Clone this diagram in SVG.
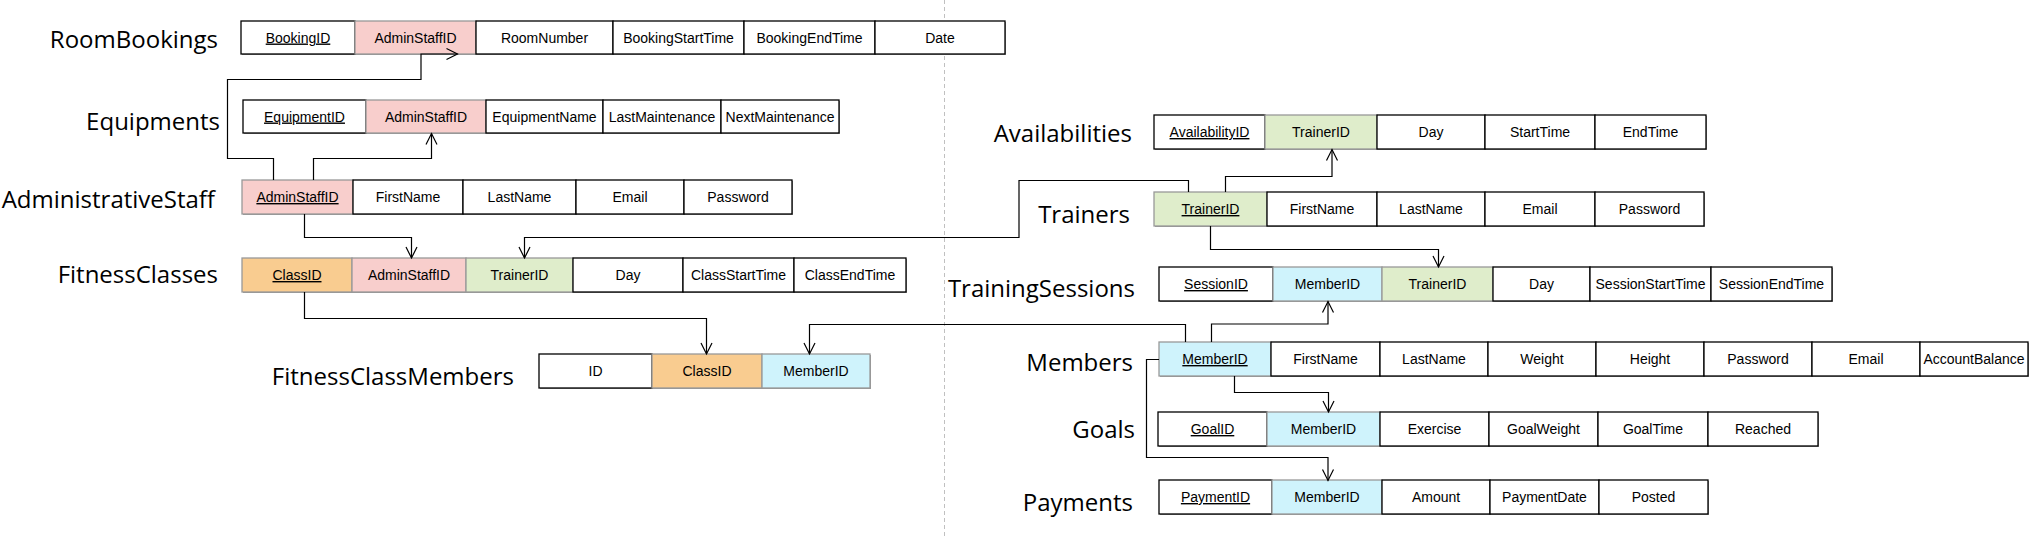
<svg xmlns="http://www.w3.org/2000/svg" width="2035" height="539" viewBox="0 0 2035 539">
<style>
.lbl{font-family:"Open Sans","Liberation Sans",sans-serif;font-size:24px;fill:#000;text-anchor:end}
.t{font-family:"Liberation Sans",Arial,sans-serif;font-size:14px;fill:#000;text-anchor:middle}
.pk{text-decoration:underline}
.w{fill:#fff;stroke:#000;stroke-width:1.3}
.pink{fill:#f8cecc;stroke:#999;stroke-width:1.3}
.green{fill:#dfedcb;stroke:#999;stroke-width:1.3}
.orange{fill:#f9cc90;stroke:#999;stroke-width:1.3}
.cyan{fill:#cff3fc;stroke:#999;stroke-width:1.3}
.sh{fill:#999;stroke:none}
.c{fill:none;stroke:#000;stroke-width:1.2;marker-end:url(#arr)}
</style>
<defs>
<marker id="arr" viewBox="0 0 14 14" markerWidth="14" markerHeight="14" refX="12" refY="7" orient="auto" markerUnits="userSpaceOnUse">
<path d="M1,1.5 L12,7 L1,12.5" fill="none" stroke="#000" stroke-width="1.2"/>
</marker>
</defs>
<rect width="2035" height="539" fill="#fff"/>
<line x1="944.5" y1="0" x2="944.5" y2="539" stroke="#c0c0c0" stroke-width="1" stroke-dasharray="4 3"/>

<g id="RoomBookings">
<text class="lbl" x="218" y="48">RoomBookings</text>
<rect class="sh" x="242" y="22" width="764" height="33"/>
<rect class="w" x="241" y="21" width="114" height="33"/><text class="t pk" x="298" y="42.5">BookingID</text>
<rect class="pink" x="355" y="21" width="121" height="33"/><text class="t" x="415.5" y="42.5">AdminStaffID</text>
<rect class="w" x="476" y="21" width="137" height="33"/><text class="t" x="544.5" y="42.5">RoomNumber</text>
<rect class="w" x="613" y="21" width="131" height="33"/><text class="t" x="678.5" y="42.5">BookingStartTime</text>
<rect class="w" x="744" y="21" width="131" height="33"/><text class="t" x="809.5" y="42.5">BookingEndTime</text>
<rect class="w" x="875" y="21" width="130" height="33"/><text class="t" x="940" y="42.5">Date</text>
</g>

<g id="Equipments">
<text class="lbl" x="220" y="130">Equipments</text>
<rect class="sh" x="244" y="101" width="596" height="33"/>
<rect class="w" x="243" y="100" width="123" height="33"/><text class="t pk" x="304.5" y="121.5">EquipmentID</text>
<rect class="pink" x="366" y="100" width="120" height="33"/><text class="t" x="426" y="121.5">AdminStaffID</text>
<rect class="w" x="486" y="100" width="117" height="33"/><text class="t" x="544.5" y="121.5">EquipmentName</text>
<rect class="w" x="603" y="100" width="118" height="33"/><text class="t" x="662" y="121.5">LastMaintenance</text>
<rect class="w" x="721" y="100" width="118" height="33"/><text class="t" x="780" y="121.5">NextMaintenance</text>
</g>

<g id="AdministrativeStaff">
<text class="lbl" x="215" y="208">AdministrativeStaff</text>
<rect class="sh" x="243" y="181" width="550" height="34"/>
<rect class="pink" x="242" y="180" width="111" height="34"/><text class="t pk" x="297.5" y="202">AdminStaffID</text>
<rect class="w" x="353" y="180" width="110" height="34"/><text class="t" x="408" y="202">FirstName</text>
<rect class="w" x="463" y="180" width="113" height="34"/><text class="t" x="519.5" y="202">LastName</text>
<rect class="w" x="576" y="180" width="108" height="34"/><text class="t" x="630" y="202">Email</text>
<rect class="w" x="684" y="180" width="108" height="34"/><text class="t" x="738" y="202">Password</text>
</g>

<g id="FitnessClasses">
<text class="lbl" x="218" y="283">FitnessClasses</text>
<rect class="sh" x="243" y="259" width="664" height="34"/>
<rect class="orange" x="242" y="258" width="110" height="34"/><text class="t pk" x="297" y="280">ClassID</text>
<rect class="pink" x="352" y="258" width="114" height="34"/><text class="t" x="409" y="280">AdminStaffID</text>
<rect class="green" x="466" y="258" width="107" height="34"/><text class="t" x="519.5" y="280">TrainerID</text>
<rect class="w" x="573" y="258" width="110" height="34"/><text class="t" x="628" y="280">Day</text>
<rect class="w" x="683" y="258" width="111" height="34"/><text class="t" x="738.5" y="280">ClassStartTime</text>
<rect class="w" x="794" y="258" width="112" height="34"/><text class="t" x="850" y="280">ClassEndTime</text>
</g>

<g id="FitnessClassMembers">
<text class="lbl" x="514" y="385">FitnessClassMembers</text>
<rect class="sh" x="540" y="355" width="331" height="34"/>
<rect class="w" x="539" y="354" width="113" height="34"/><text class="t" x="595.5" y="376">ID</text>
<rect class="orange" x="652" y="354" width="110" height="34"/><text class="t" x="707" y="376">ClassID</text>
<rect class="cyan" x="762" y="354" width="108" height="34"/><text class="t" x="816" y="376">MemberID</text>
</g>

<g id="Availabilities">
<text class="lbl" x="1132" y="141.5">Availabilities</text>
<rect class="sh" x="1155" y="116" width="552" height="34"/>
<rect class="w" x="1154" y="115" width="111" height="34"/><text class="t pk" x="1209.5" y="137">AvailabilityID</text>
<rect class="green" x="1265" y="115" width="112" height="34"/><text class="t" x="1321" y="137">TrainerID</text>
<rect class="w" x="1377" y="115" width="108" height="34"/><text class="t" x="1431" y="137">Day</text>
<rect class="w" x="1485" y="115" width="110" height="34"/><text class="t" x="1540" y="137">StartTime</text>
<rect class="w" x="1595" y="115" width="111" height="34"/><text class="t" x="1650.5" y="137">EndTime</text>
</g>

<g id="Trainers">
<text class="lbl" x="1130" y="222.5">Trainers</text>
<rect class="sh" x="1155" y="193" width="550" height="34"/>
<rect class="green" x="1154" y="192" width="113" height="34"/><text class="t pk" x="1210.5" y="214">TrainerID</text>
<rect class="w" x="1267" y="192" width="110" height="34"/><text class="t" x="1322" y="214">FirstName</text>
<rect class="w" x="1377" y="192" width="108" height="34"/><text class="t" x="1431" y="214">LastName</text>
<rect class="w" x="1485" y="192" width="110" height="34"/><text class="t" x="1540" y="214">Email</text>
<rect class="w" x="1595" y="192" width="109" height="34"/><text class="t" x="1649.5" y="214">Password</text>
</g>

<g id="TrainingSessions">
<text class="lbl" x="1135" y="297">TrainingSessions</text>
<rect class="sh" x="1160" y="268" width="673" height="34"/>
<rect class="w" x="1159" y="267" width="114" height="34"/><text class="t pk" x="1216" y="289">SessionID</text>
<rect class="cyan" x="1273" y="267" width="109" height="34"/><text class="t" x="1327.5" y="289">MemberID</text>
<rect class="green" x="1382" y="267" width="111" height="34"/><text class="t" x="1437.5" y="289">TrainerID</text>
<rect class="w" x="1493" y="267" width="97" height="34"/><text class="t" x="1541.5" y="289">Day</text>
<rect class="w" x="1590" y="267" width="121" height="34"/><text class="t" x="1650.5" y="289">SessionStartTime</text>
<rect class="w" x="1711" y="267" width="121" height="34"/><text class="t" x="1771.5" y="289">SessionEndTime</text>
</g>

<g id="Members">
<text class="lbl" x="1133" y="370.5">Members</text>
<rect class="sh" x="1160" y="343" width="869" height="34"/>
<rect class="cyan" x="1159" y="342" width="112" height="34"/><text class="t pk" x="1215" y="364">MemberID</text>
<rect class="w" x="1271" y="342" width="109" height="34"/><text class="t" x="1325.5" y="364">FirstName</text>
<rect class="w" x="1380" y="342" width="108" height="34"/><text class="t" x="1434" y="364">LastName</text>
<rect class="w" x="1488" y="342" width="108" height="34"/><text class="t" x="1542" y="364">Weight</text>
<rect class="w" x="1596" y="342" width="108" height="34"/><text class="t" x="1650" y="364">Height</text>
<rect class="w" x="1704" y="342" width="108" height="34"/><text class="t" x="1758" y="364">Password</text>
<rect class="w" x="1812" y="342" width="108" height="34"/><text class="t" x="1866" y="364">Email</text>
<rect class="w" x="1920" y="342" width="108" height="34"/><text class="t" x="1974" y="364">AccountBalance</text>
</g>

<g id="Goals">
<text class="lbl" x="1135" y="437.5">Goals</text>
<rect class="sh" x="1159" y="413" width="660" height="34"/>
<rect class="w" x="1158" y="412" width="109" height="34"/><text class="t pk" x="1212.5" y="434">GoalID</text>
<rect class="cyan" x="1267" y="412" width="113" height="34"/><text class="t" x="1323.5" y="434">MemberID</text>
<rect class="w" x="1380" y="412" width="109" height="34"/><text class="t" x="1434.5" y="434">Exercise</text>
<rect class="w" x="1489" y="412" width="109" height="34"/><text class="t" x="1543.5" y="434">GoalWeight</text>
<rect class="w" x="1598" y="412" width="110" height="34"/><text class="t" x="1653" y="434">GoalTime</text>
<rect class="w" x="1708" y="412" width="110" height="34"/><text class="t" x="1763" y="434">Reached</text>
</g>

<g id="Payments">
<text class="lbl" x="1133" y="510.5">Payments</text>
<rect class="sh" x="1160" y="481" width="549" height="34"/>
<rect class="w" x="1159" y="480" width="113" height="34"/><text class="t pk" x="1215.5" y="502">PaymentID</text>
<rect class="cyan" x="1272" y="480" width="110" height="34"/><text class="t" x="1327" y="502">MemberID</text>
<rect class="w" x="1382" y="480" width="108" height="34"/><text class="t" x="1436" y="502">Amount</text>
<rect class="w" x="1490" y="480" width="109" height="34"/><text class="t" x="1544.5" y="502">PaymentDate</text>
<rect class="w" x="1599" y="480" width="109" height="34"/><text class="t" x="1653.5" y="502">Posted</text>
</g>

<g id="connectors">
<path class="c" d="M273.5,180 V158.5 H227.5 V79.5 H421 V54 H457.5"/>
<path class="c" d="M313.5,180 V158.5 H431.5 V133.5"/>
<path class="c" d="M304.5,214 V237.5 H411.5 V258"/>
<path class="c" d="M1188.5,192 V180.5 H1019 V237.5 H524.5 V258"/>
<path class="c" d="M304.5,292 V318.5 H706.5 V354"/>
<path class="c" d="M1185.5,342 V324.5 H809.5 V354"/>
<path class="c" d="M1225.5,192 V176.5 H1332 V149.5"/>
<path class="c" d="M1210.5,226 V249.5 H1438.5 V267"/>
<path class="c" d="M1211.5,342 V324 H1328 V301.5"/>
<path class="c" d="M1234.5,376 V392.5 H1328.5 V412"/>
<path class="c" d="M1159,359.5 H1146.5 V457.5 H1328 V480.5"/>
</g>
</svg>
